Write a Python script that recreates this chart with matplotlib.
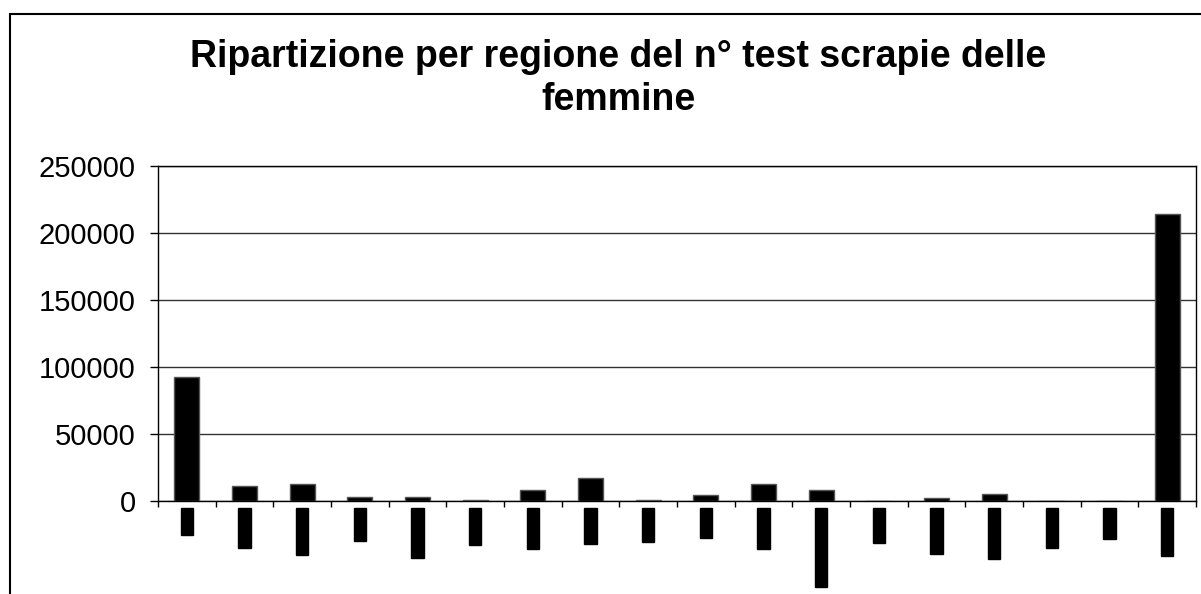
import numpy as np
import matplotlib.pyplot as plt
from matplotlib.patches import Rectangle

# etichette illeggibili nella scansione (rese come blocchi neri)
regioni = ["Lazio", "Abruzzo", "Basilicata", "Molise", "Campania", "Marche",
           "Calabria", "Umbria", "Liguria", "Sicilia", "Toscana",
           "Emilia Romagna", "Veneto", "Piemonte", "Lombardia", "Trentino",
           "Puglia", "Sardegna"]
test_femmine = [92500, 11400, 12400, 3200, 2800, 1000, 8000, 17500, 1000,
                4500, 13000, 8500, 300, 2200, 5000, 200, 300, 214000]
yticks = [0, 50000, 100000, 150000, 200000, 250000]

plt.rcParams['font.family'] = ['Liberation Sans', 'DejaVu Sans']

fig = plt.figure(figsize=(12.01, 5.94), dpi=100)
# bordo del grafico
fig.patches.append(Rectangle((10/1201, -0.05), 1.1, 1 - 14/594 + 0.05,
                             transform=fig.transFigure, fill=False,
                             edgecolor='black', linewidth=1.5))

ax = fig.add_axes([158/1201, 1 - 501/594, 1038/1201, 335/594])
x = np.arange(len(regioni))
ax.bar(x, test_femmine, width=0.43, color='black', edgecolor='#555555', linewidth=1, zorder=3)

ax.set_xlim(-0.5, len(regioni) - 0.5)
ax.set_ylim(0, 250000)
ax.set_yticks(yticks)
ax.set_yticklabels([str(v) for v in yticks], fontsize=21)
ax.yaxis.grid(True, color='#333333', linewidth=1)
ax.tick_params(axis='y', length=6, width=1, direction='out', pad=10)

# tacche tra le categorie
ax.set_xticks(np.arange(-0.5, len(regioni)))
ax.set_xticklabels([])
ax.tick_params(axis='x', length=4, width=1, direction='out')
for i, r in enumerate(regioni):
    ax.annotate(r, (i, 0), xytext=(0, -6), textcoords='offset points',
                rotation=90, ha='center', va='top', fontsize=7.5, color='black',
                bbox=dict(boxstyle='square,pad=0.12', facecolor='black', edgecolor='black'),
                annotation_clip=False)

for s in ax.spines.values():
    s.set_color('black')
    s.set_linewidth(1)

fig.text(618/1201, 1 - 57/594, "Ripartizione per regione del n° test scrapie delle",
         ha='center', va='center', fontsize=27, fontweight='bold')
fig.text(618/1201, 1 - 100/594, "femmine", ha='center', va='center',
         fontsize=27, fontweight='bold')

fig.savefig('out.png', dpi=100)
